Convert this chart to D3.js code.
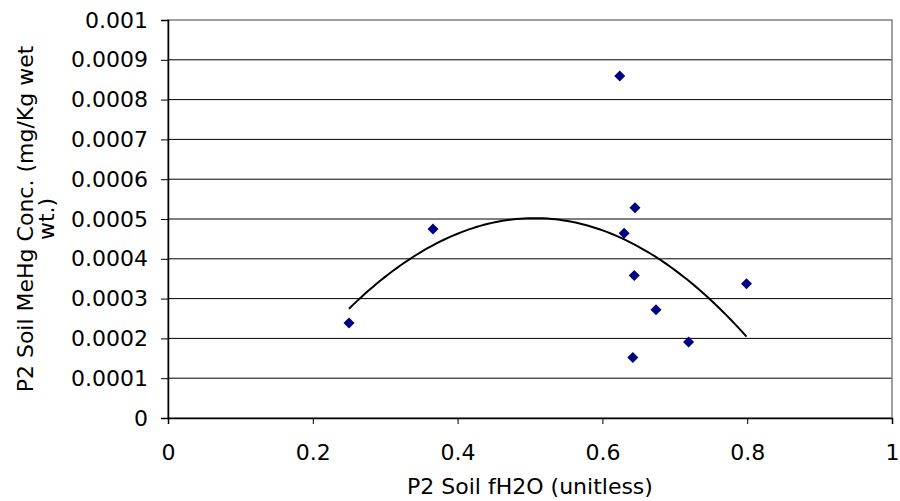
<!DOCTYPE html>
<html>
<head>
<meta charset="utf-8">
<script src="https://cdn.jsdelivr.net/npm/d3@7"></script>
<style>
  body { margin: 0; background: #fff; }
  text { font-family: Verdana, "DejaVu Sans", sans-serif; font-size: 22px; fill: #000; }
</style>
</head>
<body>
<div id="chart"></div>
<script>
const fh2o = [0.250, 0.366, 0.624, 0.645, 0.630, 0.644, 0.799, 0.674, 0.719, 0.642];
const mehg = [0.000239, 0.000475, 0.000859, 0.000528, 0.000464, 0.000358, 0.000337, 0.000272, 0.000191, 0.000152];
const xTicks = [0, 0.2, 0.4, 0.6, 0.8, 1];
const yTicks = [0, 0.0001, 0.0002, 0.0003, 0.0004, 0.0005, 0.0006, 0.0007, 0.0008, 0.0009, 0.001];

const plotL = 168, plotR = 892, plotT = 20, plotB = 418;

const svg = d3.select("#chart").append("svg")
    .attr("width", 900)
    .attr("height", 501);

svg.append("rect").attr("width", 900).attr("height", 501).attr("fill", "#fff");

const x = d3.scaleLinear().domain([0, 1]).range([plotL, plotR]);
const y = d3.scaleLinear().domain([0, 0.001]).range([plotB, plotT]);

// gridlines
svg.append("g")
    .selectAll("line")
    .data(yTicks.filter(d => d > 0 && d < 0.001))
    .join("line")
    .attr("x1", plotL).attr("x2", plotR)
    .attr("y1", d => y(d)).attr("y2", d => y(d))
    .attr("stroke", "#000")
    .attr("stroke-width", 1);

// plot area border
svg.append("rect")
    .attr("x", plotL).attr("y", plotT)
    .attr("width", plotR - plotL).attr("height", plotB - plotT)
    .attr("fill", "none")
    .attr("stroke", "#808080")
    .attr("stroke-width", 1.5);

const yAxis = svg.append("g")
    .attr("transform", `translate(${plotL},0)`)
    .call(d3.axisLeft(y).tickValues(yTicks).tickSize(7).tickPadding(13)
        .tickFormat(d => d === 0 ? "0" : String(+d.toPrecision(6))));
const xAxis = svg.append("g")
    .attr("transform", `translate(0,${plotB})`)
    .call(d3.axisBottom(x).tickValues(xTicks).tickSize(6).tickPadding(20)
        .tickFormat(d => String(d)));

[yAxis, xAxis].forEach(a => {
    a.attr("font-size", null).attr("font-family", null);
    a.select(".domain").attr("stroke", "#000").attr("stroke-width", 1.5);
    a.selectAll(".tick line").attr("stroke", "#000");
});

// quadratic trendline (least squares)
function polyFit(xs, ys) {
    let s = [0, 0, 0, 0, 0], t = [0, 0, 0];
    xs.forEach((xi, i) => {
        for (let k = 0; k < 5; k++) s[k] += Math.pow(xi, k);
        for (let k = 0; k < 3; k++) t[k] += ys[i] * Math.pow(xi, k);
    });
    const A = [[s[0], s[1], s[2], t[0]], [s[1], s[2], s[3], t[1]], [s[2], s[3], s[4], t[2]]];
    for (let i = 0; i < 3; i++) {
        for (let j = i + 1; j < 3; j++) {
            const f = A[j][i] / A[i][i];
            for (let k = i; k < 4; k++) A[j][k] -= f * A[i][k];
        }
    }
    const c = [0, 0, 0];
    for (let i = 2; i >= 0; i--) {
        let v = A[i][3];
        for (let k = i + 1; k < 3; k++) v -= A[i][k] * c[k];
        c[i] = v / A[i][i];
    }
    return c;
}
const coef = polyFit(fh2o, mehg);
const x0 = d3.min(fh2o), x1 = d3.max(fh2o);
const trend = d3.range(0, 101).map(i => {
    const xv = x0 + (x1 - x0) * i / 100;
    return [xv, coef[0] + coef[1] * xv + coef[2] * xv * xv];
});
svg.append("path")
    .attr("d", d3.line().x(d => x(d[0])).y(d => y(d[1]))(trend))
    .attr("fill", "none")
    .attr("stroke", "#000")
    .attr("stroke-width", 2);

// points
svg.append("g")
    .selectAll("path")
    .data(fh2o.map((d, i) => [d, mehg[i]]))
    .join("path")
    .attr("transform", d => `translate(${x(d[0])},${y(d[1])})`)
    .attr("d", "M0,-5.5L5.5,0L0,5.5L-5.5,0Z")
    .attr("fill", "#000080");

// axis titles
svg.append("text")
    .attr("x", (plotL + plotR) / 2)
    .attr("y", 494)
    .attr("text-anchor", "middle")
    .text("P2 Soil fH2O (unitless)");

const yt = svg.append("text")
    .attr("transform", `translate(0,${(plotT + plotB) / 2}) rotate(-90)`)
    .attr("text-anchor", "middle");
yt.append("tspan").attr("x", 0).attr("y", 33).text("P2 Soil MeHg Conc. (mg/Kg wet");
yt.append("tspan").attr("x", 0).attr("y", 54).text("wt.)");
</script>
</body>
</html>
